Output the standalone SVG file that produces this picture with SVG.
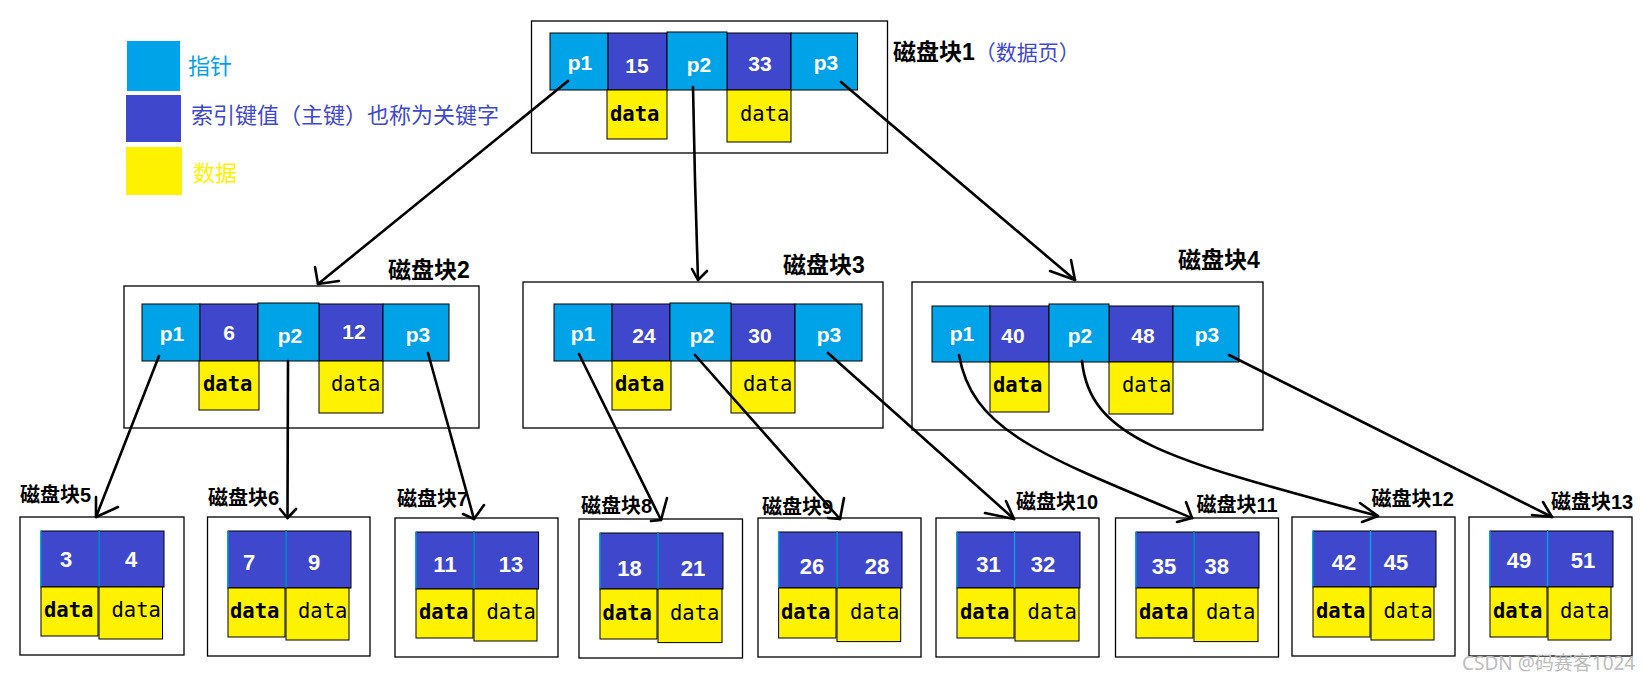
<svg xmlns="http://www.w3.org/2000/svg" width="1651" height="683" viewBox="0 0 1651 683">
<style>
.ptr{fill:#00a2e8;stroke:#000;stroke-width:1}
.key{fill:#3f48cc;stroke:#000;stroke-width:1}
.dat{fill:#fff200;stroke:#000;stroke-width:1}
.box{fill:none;stroke:#000;stroke-width:1.3}
.cy{stroke:#00a2e8;stroke-width:1.5}
.ct{font-family:"Liberation Sans",Arial,sans-serif;font-weight:bold;font-size:21px;fill:#fff;text-anchor:middle}
.lf{font-size:22px}
.db{font-family:"DejaVu Sans Mono","Liberation Mono",monospace;font-size:20.5px;font-weight:bold;fill:#000}
.dn{font-family:"DejaVu Sans Mono","Liberation Mono",monospace;font-size:20.5px;fill:#000}
.lbl{font-family:"Liberation Sans","Noto Sans CJK SC",sans-serif;font-weight:bold;font-size:23px;fill:#000}
.lbs{font-size:20px}
.leg{font-family:"Noto Sans CJK SC",sans-serif;font-size:22px}
.conn path{fill:none;stroke:#000;stroke-width:2.6;stroke-linecap:round;stroke-linejoin:round}
</style>

<g id="legend">
<rect x="127" y="41" width="53" height="50" fill="#00a2e8"/>
<rect x="126" y="95" width="55" height="47" fill="#3f48cc"/>
<rect x="126" y="147" width="56" height="48" fill="#fff200"/>
<text class="leg" x="188" y="74" fill="#00a2e8">指针</text>
<text class="leg" x="191" y="123" fill="#3f48cc">索引键值（主键）也称为关键字</text>
<text class="leg" x="193" y="181" fill="#fff200">数据</text>
</g>

<g id="block1">
<rect class="box" x="531.5" y="21" width="356" height="132"/>
<rect class="ptr" x="550" y="33" width="58" height="57"/>
<rect class="key" x="608" y="33" width="59" height="57"/>
<rect class="key" x="727" y="33" width="64" height="57"/>
<rect class="ptr" x="791" y="33" width="66.5" height="57"/>
<rect class="ptr" x="667" y="32" width="60" height="58"/>
<rect class="dat" x="607" y="90" width="60" height="49"/>
<rect class="dat" x="727" y="90" width="64" height="52"/>
<text class="ct" x="580" y="70">p1</text>
<text class="ct" x="637" y="73">15</text>
<text class="ct" x="699" y="72">p2</text>
<text class="ct" x="760" y="71">33</text>
<text class="ct" x="826" y="70">p3</text>
<text class="db" x="610" y="121">data</text>
<text class="dn" x="740" y="121">data</text>
<text class="lbl" x="893" y="60">磁盘块1<tspan font-weight="normal" font-size="21" fill="#3f48cc">（数据页）</tspan></text>
</g>

<g id="block2">
<rect class="box" x="124" y="286" width="355" height="142"/>
<rect class="ptr" x="142" y="304" width="58" height="57"/>
<rect class="key" x="200" y="304" width="58" height="57"/>
<rect class="key" x="319" y="304" width="64" height="57"/>
<rect class="ptr" x="383" y="304" width="66" height="57"/>
<rect class="ptr" x="258" y="303" width="61" height="58"/>
<rect class="dat" x="199" y="361" width="60" height="49"/>
<rect class="dat" x="319" y="361" width="64" height="52"/>
<text class="ct" x="172" y="341">p1</text>
<text class="ct" x="229" y="340">6</text>
<text class="ct" x="290" y="343">p2</text>
<text class="ct" x="354" y="339">12</text>
<text class="ct" x="418" y="342">p3</text>
<text class="db" x="203" y="391">data</text>
<text class="dn" x="331" y="391">data</text>
<text class="lbl" x="388" y="278">磁盘块2</text>
</g>

<g id="block3">
<rect class="box" x="523" y="282" width="360" height="146"/>
<rect class="ptr" x="554" y="304" width="58" height="57"/>
<rect class="key" x="612" y="304" width="58" height="57"/>
<rect class="key" x="731" y="304" width="64" height="57"/>
<rect class="ptr" x="795" y="304" width="67" height="57"/>
<rect class="ptr" x="670" y="303" width="61" height="58"/>
<rect class="dat" x="612" y="361" width="59" height="49"/>
<rect class="dat" x="731" y="361" width="64" height="52"/>
<text class="ct" x="583" y="341">p1</text>
<text class="ct" x="644" y="343">24</text>
<text class="ct" x="702" y="343">p2</text>
<text class="ct" x="760" y="343">30</text>
<text class="ct" x="829" y="342">p3</text>
<text class="db" x="615" y="391">data</text>
<text class="dn" x="743" y="391">data</text>
<text class="lbl" x="783" y="273">磁盘块3</text>
</g>

<g id="block4">
<rect class="box" x="912" y="282" width="351" height="148"/>
<rect class="ptr" x="932" y="306" width="58" height="56"/>
<rect class="key" x="990" y="306" width="59" height="56"/>
<rect class="key" x="1109" y="306" width="64" height="56"/>
<rect class="ptr" x="1173" y="306" width="66" height="56"/>
<rect class="ptr" x="1049" y="304" width="60" height="58"/>
<rect class="dat" x="990" y="362" width="59" height="50"/>
<rect class="dat" x="1109" y="362" width="64" height="52"/>
<text class="ct" x="962" y="341">p1</text>
<text class="ct" x="1013" y="343">40</text>
<text class="ct" x="1080" y="343">p2</text>
<text class="ct" x="1143" y="343">48</text>
<text class="ct" x="1207" y="342">p3</text>
<text class="db" x="993" y="392">data</text>
<text class="dn" x="1122" y="392">data</text>
<text class="lbl" x="1178" y="268">磁盘块4</text>
</g>

<g id="block5">
<rect class="box" x="20" y="517" width="164" height="138"/>
<rect class="key" x="41" y="531" width="58" height="56"/>
<rect class="key" x="99" y="531" width="65" height="56"/>
<line class="cy" x1="41" y1="531" x2="41" y2="587"/><line class="cy" x1="99" y1="531" x2="99" y2="587"/>
<rect class="dat" x="41" y="587" width="57" height="49"/>
<rect class="dat" x="99" y="587" width="63.5" height="52"/>
<text class="ct lf" x="66" y="567">3</text>
<text class="ct lf" x="131" y="567">4</text>
<text class="db" x="44" y="617">data</text>
<text class="dn" x="111.5" y="617">data</text>
<text class="lbl lbs" x="20" y="502">磁盘块5</text>
</g>

<g id="block6">
<rect class="box" x="207.5" y="517" width="162.5" height="139"/>
<rect class="key" x="228" y="531" width="58" height="57"/>
<rect class="key" x="286" y="531" width="65" height="57"/>
<line class="cy" x1="228" y1="531" x2="228" y2="588"/><line class="cy" x1="286" y1="531" x2="286" y2="588"/>
<rect class="dat" x="228" y="588" width="57" height="49"/>
<rect class="dat" x="286" y="588" width="63" height="52"/>
<text class="ct lf" x="249" y="570">7</text>
<text class="ct lf" x="314" y="570">9</text>
<text class="db" x="230" y="618">data</text>
<text class="dn" x="298" y="618">data</text>
<text class="lbl lbs" x="208" y="505">磁盘块6</text>
</g>

<g id="block7">
<rect class="box" x="395" y="518" width="163" height="139"/>
<rect class="key" x="416" y="532" width="58" height="57"/>
<rect class="key" x="474" y="532" width="64.6" height="57"/>
<line class="cy" x1="416" y1="532" x2="416" y2="589"/><line class="cy" x1="474" y1="532" x2="474" y2="589"/>
<rect class="dat" x="416" y="589" width="57" height="49"/>
<rect class="dat" x="474" y="589" width="63" height="52"/>
<text class="ct lf" x="445" y="572">11</text>
<text class="ct lf" x="511" y="572">13</text>
<text class="db" x="419" y="619">data</text>
<text class="dn" x="486.5" y="619">data</text>
<text class="lbl lbs" x="397" y="506">磁盘块7</text>
</g>

<g id="block8">
<rect class="box" x="579" y="519" width="163.5" height="139"/>
<rect class="key" x="600" y="533" width="58" height="56"/>
<rect class="key" x="658" y="533" width="65" height="56"/>
<line class="cy" x1="600" y1="533" x2="600" y2="589"/><line class="cy" x1="658" y1="533" x2="658" y2="589"/>
<rect class="dat" x="600" y="589" width="57" height="50"/>
<rect class="dat" x="658" y="589" width="64" height="53.6"/>
<text class="ct lf" x="629.6" y="576">18</text>
<text class="ct lf" x="693" y="576">21</text>
<text class="db" x="602.6" y="620">data</text>
<text class="dn" x="670" y="620">data</text>
<text class="lbl lbs" x="581" y="513">磁盘块8</text>
</g>

<g id="block9">
<rect class="box" x="758" y="518" width="163" height="139"/>
<rect class="key" x="778.6" y="532" width="58.4" height="56"/>
<rect class="key" x="837" y="532" width="65" height="56"/>
<line class="cy" x1="778.6" y1="532" x2="778.6" y2="588"/><line class="cy" x1="837" y1="532" x2="837" y2="588"/>
<rect class="dat" x="778.6" y="588" width="57.4" height="50"/>
<rect class="dat" x="837" y="588" width="63.7" height="53.6"/>
<text class="ct lf" x="812" y="574">26</text>
<text class="ct lf" x="877" y="574">28</text>
<text class="db" x="781" y="619">data</text>
<text class="dn" x="850" y="619">data</text>
<text class="lbl lbs" x="762" y="514">磁盘块9</text>
</g>

<g id="block10">
<rect class="box" x="936" y="518" width="163" height="139"/>
<rect class="key" x="957" y="532" width="57.6" height="56"/>
<rect class="key" x="1014.6" y="532" width="65.4" height="56"/>
<line class="cy" x1="957" y1="532" x2="957" y2="588"/><line class="cy" x1="1014.6" y1="532" x2="1014.6" y2="588"/>
<rect class="dat" x="957" y="588" width="57" height="50"/>
<rect class="dat" x="1015" y="588" width="64" height="53"/>
<text class="ct lf" x="988.6" y="572">31</text>
<text class="ct lf" x="1043" y="572">32</text>
<text class="db" x="960" y="619">data</text>
<text class="dn" x="1027.6" y="619">data</text>
<text class="lbl lbs" x="1016" y="509">磁盘块10</text>
</g>

<g id="block11">
<rect class="box" x="1115.5" y="518" width="163" height="139"/>
<rect class="key" x="1136" y="532" width="58" height="56"/>
<rect class="key" x="1194" y="532" width="65" height="56"/>
<line class="cy" x1="1136" y1="532" x2="1136" y2="588"/><line class="cy" x1="1194" y1="532" x2="1194" y2="588"/>
<rect class="dat" x="1136" y="588" width="57" height="50"/>
<rect class="dat" x="1194" y="588" width="64" height="53.6"/>
<text class="ct lf" x="1164" y="574">35</text>
<text class="ct lf" x="1216.7" y="574">38</text>
<text class="db" x="1139" y="619">data</text>
<text class="dn" x="1206" y="619">data</text>
<text class="lbl lbs" x="1196.6" y="512">磁盘块11</text>
</g>

<g id="block12">
<rect class="box" x="1292" y="517" width="163" height="139"/>
<rect class="key" x="1313" y="531" width="57.5" height="56"/>
<rect class="key" x="1370.5" y="531" width="65.5" height="56"/>
<line class="cy" x1="1313" y1="531" x2="1313" y2="587"/><line class="cy" x1="1370.5" y1="531" x2="1370.5" y2="587"/>
<rect class="dat" x="1313" y="587" width="57" height="50"/>
<rect class="dat" x="1371" y="587" width="63" height="53"/>
<text class="ct lf" x="1344" y="570">42</text>
<text class="ct lf" x="1396" y="570">45</text>
<text class="db" x="1316" y="618">data</text>
<text class="dn" x="1383.6" y="618">data</text>
<text class="lbl lbs" x="1371.6" y="506">磁盘块12</text>
</g>

<g id="block13">
<rect class="box" x="1469" y="517" width="163" height="139"/>
<rect class="key" x="1490" y="531" width="57.6" height="56"/>
<rect class="key" x="1547.6" y="531" width="65.4" height="56"/>
<line class="cy" x1="1490" y1="531" x2="1490" y2="587"/><line class="cy" x1="1547.6" y1="531" x2="1547.6" y2="587"/>
<rect class="dat" x="1490" y="587" width="57" height="50"/>
<rect class="dat" x="1548" y="587" width="63" height="53"/>
<text class="ct lf" x="1519" y="568">49</text>
<text class="ct lf" x="1583" y="568">51</text>
<text class="db" x="1493" y="618">data</text>
<text class="dn" x="1560" y="618">data</text>
<text class="lbl lbs" x="1551" y="509">磁盘块13</text>
</g>

<g id="connectors" class="conn">
<path d="M568,81 L318,284"/><path d="M315,267 L318,284 L339,281"/>
<path d="M693,87 L695,180 L698,280"/><path d="M692,269 L698,280 L707,271"/>
<path d="M841,82 L1075,280"/><path d="M1071,260 L1075,280 L1050,271"/>
<path d="M159,356 L96,517"/><path d="M96,497 L96,517 L118,507"/>
<path d="M288,361 L287.5,518"/><path d="M280,509 L287.5,518 L296,509"/>
<path d="M428,353 L474,519"/><path d="M463,514 L474,519 L484,505"/>
<path d="M579,354 L661,520"/><path d="M667,498 L661,520 L651,521"/>
<path d="M695,355 L840,519"/><path d="M844,498 L840,519 L828,518"/>
<path d="M828,353 L1014,519"/><path d="M1006,501 L1014,519 L985,513"/>
<path d="M959,355 C972,430 1040,455 1192,518"/><path d="M1186,502 L1192,518 L1177,522"/>
<path d="M1082,361 C1090,440 1170,460 1378,516"/><path d="M1360,503 L1378,516 L1362,522"/>
<path d="M1229,355 L1552,517"/><path d="M1543,502 L1552,517 L1532,515"/>
</g>

<text x="1462" y="670" font-family="'Noto Sans','Noto Sans CJK SC',sans-serif" font-size="19" fill="#bdbdbd">CSDN @码赛客1024</text>
</svg>
